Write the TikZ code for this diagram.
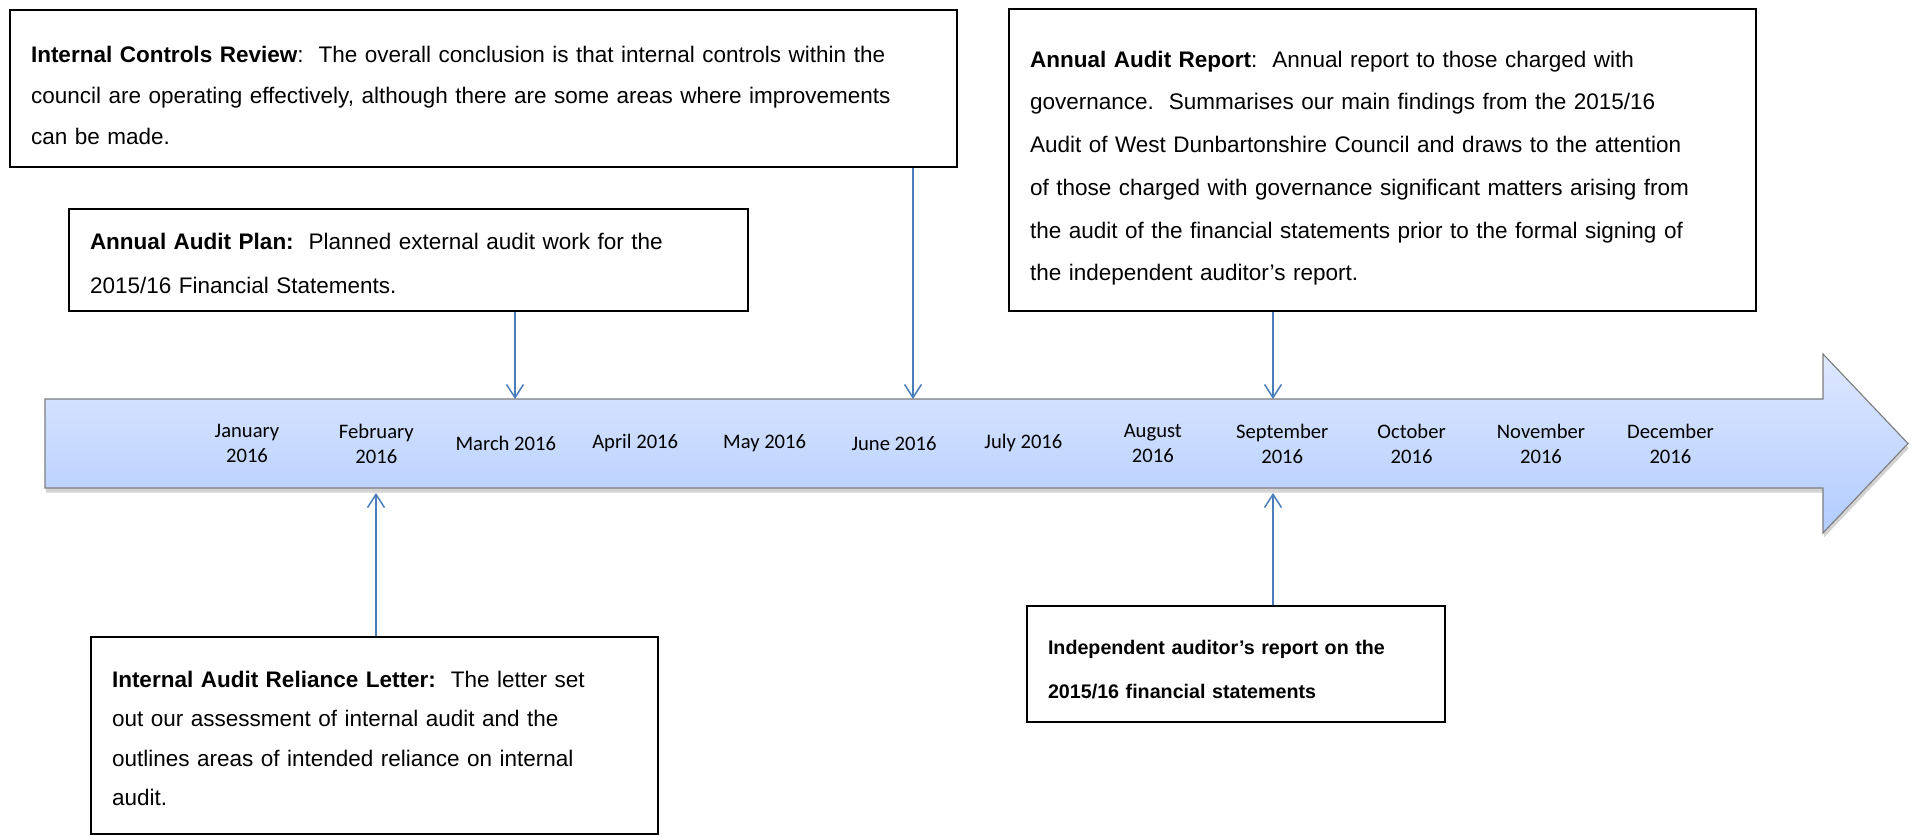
\documentclass[tikz,border=0pt]{standalone}
\usepackage{fontspec}
\setmainfont{Liberation Sans}
\newfontfamily\calibri{Carlito}
\usetikzlibrary{arrows.meta,shadows}
\def\upx{0.53333pt}
\definecolor{linkblue}{RGB}{74,126,187}
\definecolor{bartop}{RGB}{222,232,255}
\definecolor{barbot}{RGB}{178,204,255}
\definecolor{bargray}{RGB}{125,125,125}
\tikzset{
  note/.style={draw,line width=1pt,align=left,inner xsep=21*\upx,inner ysep=0pt},
  spacing/.style={font=\fontsize{12}{#1}\selectfont},
  firstline/.style={execute at begin node={\rule{0pt}{#1}}},
  month/.style={align=center,inner sep=0pt,font=\calibri\fontsize{11}{13.4}\selectfont},
  link/.style={draw=linkblue,line width=0.8pt,-{Straight Barb[length=7pt,width=9pt]}}
}

\begin{document}
\begin{tikzpicture}[x=0.53333pt,y=-0.53333pt]
            \useasboundingbox (0,0) rectangle (1912,835);
            % timeline arrow
            \path[draw=bargray,line width=0.6pt,top color=bartop,bottom color=barbot,
              drop shadow={shadow xshift=0.4pt,shadow yshift=-2.5pt,opacity=0.35}]
              (45,399) -- (1823,399) -- (1823,354) -- (1908,443.5) -- (1823,533)
              -- (1823,488) -- (45,488) -- cycle;
            \foreach \m [count=\i from 0] in {{January\\2016},{February\\2016},{March 2016},
              {April 2016},{May 2016},{June 2016},{July 2016},{August\\2016},{September\\2016},
              {October\\2016},{November\\2016},{December\\2016}}{
                \node[month] (m\i) at ({247+129.4*\i},443.5) {\m};
            }
            \coordinate (mar) at (515,399);
            \coordinate (jun) at (913,399);
            \coordinate (sep) at (1273,399);
            \coordinate (feb) at (376,493);
            \coordinate (sepb) at (1273,493);
            % notes above
            \node[note,spacing=21.8,firstline=16.3pt,text width=905*\upx,minimum height=157*\upx] (ctrl) at (483.5,88.5)
              {\textbf{Internal Controls Review}:\ \ The overall conclusion is that internal controls within the\\
               council are operating effectively, although there are some areas where improvements\\
               can be made.};
            \node[note,spacing=23.4,firstline=12pt,text width=637*\upx,minimum height=102*\upx] (plan) at (408.5,260)
              {\textbf{Annual Audit Plan:}\ \ Planned external audit work for the\\
               2015/16 Financial Statements.};
            \node[note,spacing=22.8,firstline=17.4pt,text width=705*\upx,minimum height=302*\upx] (report) at (1382.5,160)
              {\textbf{Annual Audit Report}:\ \ Annual report to those charged with\\
               governance.\ \ Summarises our main findings from the 2015/16\\
               Audit of West Dunbartonshire Council and draws to the attention\\
               of those charged with governance significant matters arising from\\
               the audit of the financial statements prior to the formal signing of\\
               the independent auditor’s report.};
            % notes below
            \node[note,spacing=21,firstline=12pt,text width=525*\upx,minimum height=197*\upx] (letter) at (374.5,735.5)
              {\textbf{Internal Audit Reliance Letter:}\ \ The letter set\\
               out our assessment of internal audit and the\\
               outlines areas of intended reliance on internal\\
               audit.};
            \node[note,font=\fontsize{10.5}{23.4}\selectfont,firstline=13.2pt,text width=376*\upx,minimum height=116*\upx] (opinion) at (1236,664)
              {\textbf{Independent auditor’s report on the\\
               2015/16 financial statements}};
            % connectors
            \draw[link] (ctrl.south -| jun) -- (jun);
            \draw[link] (plan.south -| mar) -- (mar);
            \draw[link] (report.south -| sep) -- (sep);
            \draw[link] (letter.north -| feb) -- (feb);
            \draw[link] (opinion.north -| sepb) -- (sepb);
        \end{tikzpicture}
\end{document}
